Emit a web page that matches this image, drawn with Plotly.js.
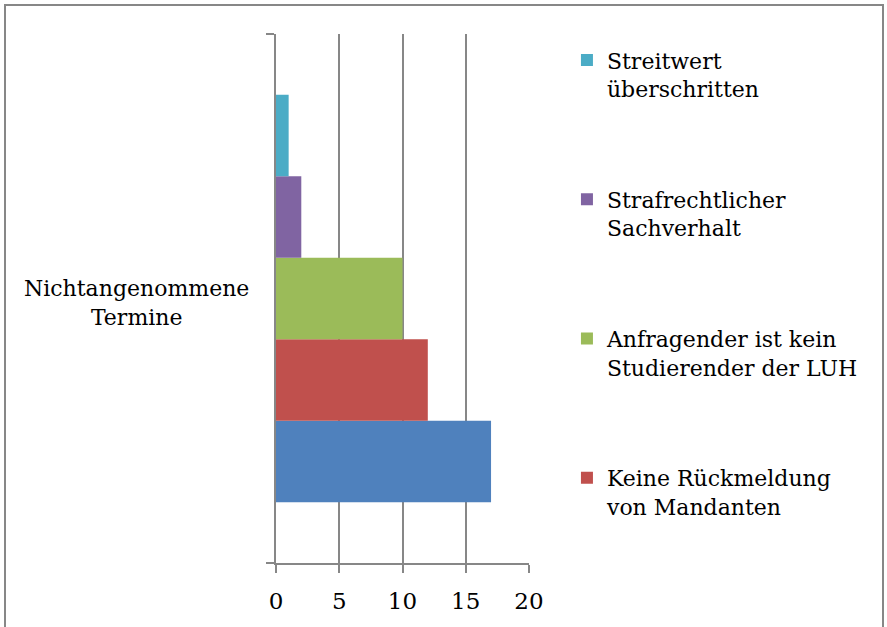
<!DOCTYPE html>
<html>
<head>
<meta charset="utf-8">
<script src="https://cdn.plot.ly/plotly-3.0.1.min.js"></script>
<style>
html,body{margin:0;padding:0;background:#fff;}
#frame{position:absolute;left:4px;top:4px;width:880px;height:700px;border:2px solid #878787;box-sizing:border-box;pointer-events:none;z-index:5;}
#chart{width:887px;height:627px;}
</style>
</head>
<body>
<div id="frame"></div>
<div id="chart"></div>
<script>
const categories = ['Nichtangenommene<br>Termine'];
const seriesNames = [
  'Mangelnde Zuständigkeit',
  'Keine Rückmeldung<br>von Mandanten',
  'Anfragender ist kein<br>Studierender der LUH',
  'Strafrechtlicher<br>Sachverhalt',
  'Streitwert<br>überschritten'
];
const seriesValues = [[17], [12], [10], [2], [1]];
const seriesColors = ['#4F81BD', '#C0504D', '#9BBB59', '#8064A2', '#4BACC6'];
const xTicks = [0, 5, 10, 15, 20];

const font = 'DejaVu Serif, serif';
const traces = seriesNames.map((name, i) => ({
  type: 'bar',
  orientation: 'h',
  name: name,
  y: categories,
  x: seriesValues[i],
  marker: {color: seriesColors[i]},
  legendgroup: 'g' + i,
  legendrank: 100 - i,
  showlegend: i !== 0,
  hoverinfo: 'x+name'
}));

const layout = {
  width: 887, height: 627,
  margin: {l: 276, r: 358, t: 34, b: 64},
  paper_bgcolor: '#fff', plot_bgcolor: '#fff',
  barmode: 'group',
  bargap: 0.23,
  bargroupgap: 0,
  font: {family: font, size: 22, color: '#000'},
  xaxis: {
    range: [0, 20], tickvals: xTicks, ticktext: xTicks.map(String),
    showgrid: true, gridcolor: '#878787', gridwidth: 2,
    showline: true, linecolor: '#878787', linewidth: 2,
    ticks: 'outside', ticklen: 8, tickcolor: '#878787', tickwidth: 2,
    ticklabelstandoff: 8,
    zeroline: false, fixedrange: true,
    tickfont: {family: font, size: 23}
  },
  yaxis: {
    type: 'category',
    showline: true, linecolor: '#878787', linewidth: 2,
    ticks: 'outside', ticklen: 8, tickcolor: '#878787', tickwidth: 2,
    tickson: 'boundaries',
    showticklabels: false,
    showgrid: false, zeroline: false, fixedrange: true
  },
  annotations: [{
    xref: 'paper', yref: 'y', x: -0.55, y: categories[0],
    xanchor: 'center', yanchor: 'middle', align: 'center',
    yshift: -4,
    text: categories[0], showarrow: false,
    font: {family: font, size: 22, color: '#000'}
  }],
  legend: {
    x: 1.15, xanchor: 'left', y: 0.99, yanchor: 'top',
    traceorder: 'grouped', tracegroupgap: 79,
    valign: 'top',
    font: {family: font, size: 22},
    bgcolor: 'rgba(0,0,0,0)'
  },
  showlegend: true
};

Plotly.newPlot('chart', traces, layout, {displayModeBar: false, staticPlot: true});
</script>
</body>
</html>
